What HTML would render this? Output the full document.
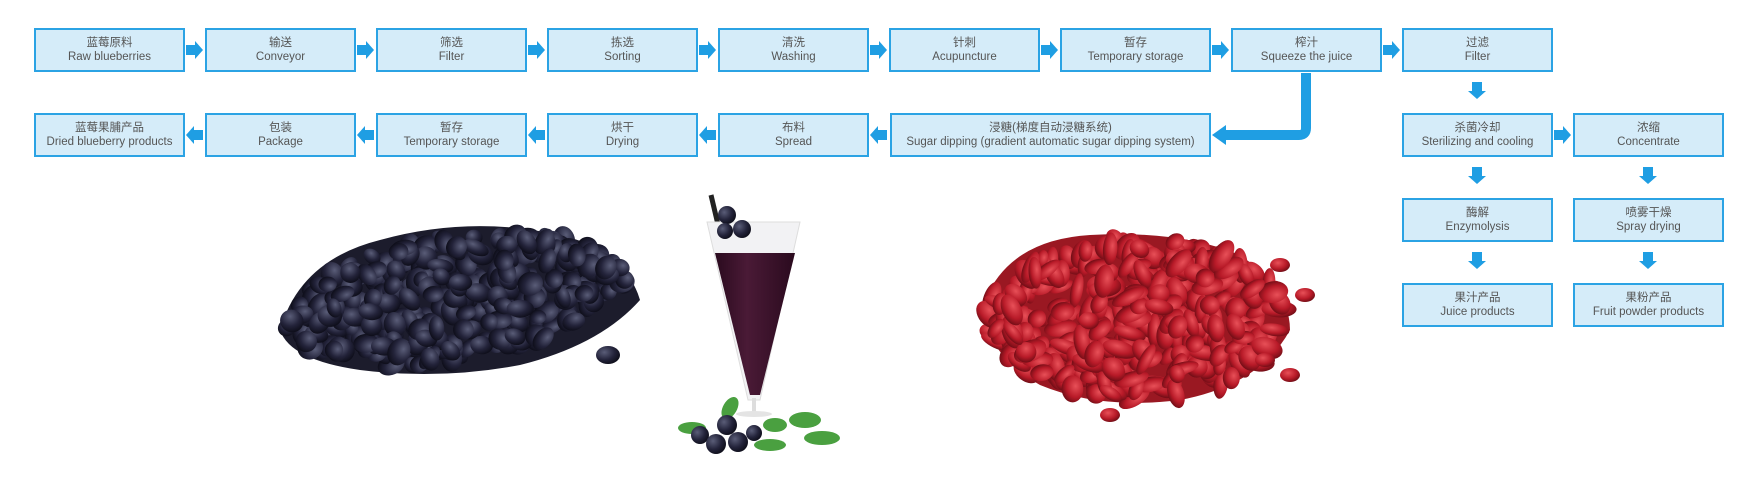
<!DOCTYPE html>
<html><head><meta charset="utf-8"><style>
body{margin:0;width:1761px;height:494px;background:#fff;overflow:hidden;font-family:"Liberation Sans","Noto Sans CJK SC",sans-serif;}
.b{position:absolute;width:147px;height:40px;background:#d5ecf9;border:2px solid #2ba3e4;text-align:center;color:#555;font-size:11.5px;line-height:14px;box-sizing:content-box;display:flex;flex-direction:column;justify-content:center;}
svg{position:absolute;left:0;top:0}
</style></head><body>
<svg width="1761" height="494" id="s">
<defs>
<radialGradient id="bb" cx="35%" cy="35%" r="70%"><stop offset="0" stop-color="#5a5d78"/><stop offset="0.6" stop-color="#23233a"/><stop offset="1" stop-color="#0e0e1a"/></radialGradient>
<radialGradient id="cr" cx="40%" cy="35%" r="70%"><stop offset="0" stop-color="#e85058"/><stop offset="0.6" stop-color="#b81a28"/><stop offset="1" stop-color="#6a0c14"/></radialGradient>
<linearGradient id="jz" x1="0" x2="1"><stop offset="0" stop-color="#2a0a1e"/><stop offset="0.4" stop-color="#4a1a36"/><stop offset="1" stop-color="#2a0a1e"/></linearGradient>
</defs>
<path d="M280 330 Q300 260 380 240 Q470 215 560 235 Q625 250 640 300 Q600 345 520 365 Q440 380 360 370 Q290 360 280 330Z" fill="#1c1c2c"/>
<path d="M985 300 Q1010 240 1090 235 Q1180 230 1240 255 Q1290 290 1290 330 Q1260 385 1180 400 Q1100 410 1040 385 Q980 350 985 300Z" fill="#9a1822"/>
<g id="blue"></g><g id="red"></g>
<line x1="711" y1="195" x2="724" y2="250" stroke="#222" stroke-width="5"/>
<path d="M707 222 L800 222 L760 400 L748 400 Z" fill="#f2f2f4" stroke="#ddd"/>
<path d="M715 253 L795 253 L760 395 L750 395 Z" fill="url(#jz)"/>
<rect x="752" y="398" width="4" height="14" fill="#ddd"/>
<ellipse cx="754" cy="414" rx="18" ry="3" fill="#e4e4e4"/>
<circle cx="727" cy="215" r="9" fill="url(#bb)"/><circle cx="742" cy="229" r="9" fill="url(#bb)"/><circle cx="725" cy="231" r="8" fill="url(#bb)"/>
<g fill="#4aa040"><ellipse cx="692" cy="428" rx="14" ry="6"/><ellipse cx="730" cy="408" rx="7" ry="12" transform="rotate(30 730 408)"/><ellipse cx="775" cy="425" rx="12" ry="7"/><ellipse cx="805" cy="420" rx="16" ry="8"/><ellipse cx="822" cy="438" rx="18" ry="7"/><ellipse cx="770" cy="445" rx="16" ry="6"/></g>
<circle cx="700" cy="435" r="9" fill="url(#bb)"/><circle cx="716" cy="444" r="10" fill="url(#bb)"/><circle cx="727" cy="425" r="10" fill="url(#bb)"/><circle cx="738" cy="442" r="10" fill="url(#bb)"/><circle cx="754" cy="433" r="8" fill="url(#bb)"/>
<g fill="none" stroke="#1f9ee3" stroke-width="10"><path d="M1306 73 V128 Q1306 135 1299 135 H1222"/></g>
<path d="M1212 135 L1226 125 L1226 145Z" fill="#1f9ee3"/>
</svg>
<div id="boxes"></div>
<script>
var s=document.getElementById('s'),NS='http://www.w3.org/2000/svg';
function el(t,a,p){var e=document.createElementNS(NS,t);for(var k in a)e.setAttribute(k,a[k]);(p||s).appendChild(e);return e;}
var ar='M0 -5 L9 -5 L9 -9 L17 0 L9 9 L9 5 L0 5Z';
var top1=[["蓝莓原料","Raw blueberries"],["输送","Conveyor"],["筛选","Filter"],["拣选","Sorting"],["清洗","Washing"],["针刺","Acupuncture"],["暂存","Temporary storage"],["榨汁","Squeeze the juice"],["过滤","Filter"]];
var bot=[["蓝莓果脯产品","Dried blueberry products"],["包装","Package"],["暂存","Temporary storage"],["烘干","Drying"],["布料","Spread"]];
var H='';
function box(x,y,w,a){H+='<div class="b" style="left:'+x+'px;top:'+y+'px;width:'+w+'px"><span>'+a[0]+'</span><span>'+a[1]+'</span></div>';}
top1.forEach(function(a,i){var x=34+171*i;box(x,28,147,a);if(i<8)el('path',{d:ar,fill:'#1f9ee3',transform:'translate('+(x+152)+',50)'});});
bot.forEach(function(a,i){var x=34+171*i;box(x,113,147,a);el('path',{d:ar,fill:'#1f9ee3',transform:'translate('+(x+169)+',135) scale(-1,1)'});});
box(890,113,317,["浸糖(梯度自动浸糖系统)","Sugar dipping (gradient automatic sugar dipping system)"]);
var c1=[["杀菌冷却","Sterilizing and cooling"],["酶解","Enzymolysis"],["果汁产品","Juice products"]];
var c2=[["浓缩","Concentrate"],["喷雾干燥","Spray drying"],["果粉产品","Fruit powder products"]];
c1.forEach(function(a,i){box(1402,113+85*i,147,a);});
c2.forEach(function(a,i){box(1573,113+85*i,147,a);});
el('path',{d:ar,fill:'#1f9ee3',transform:'translate(1554,135)'});
[[1477,82],[1477,167],[1477,252],[1648,167],[1648,252]].forEach(function(p){el('path',{d:ar,fill:'#1f9ee3',transform:'translate('+p[0]+','+p[1]+') rotate(90)'});});
document.getElementById('boxes').innerHTML=H;
var seed=7;function r(){seed=(seed*16807)%2147483647;return seed/2147483647;}
var g=document.getElementById('blue');
for(var i=0;i<320;i++){var a=r()*6.283,d=Math.sqrt(r());var x=455+Math.cos(a)*d*170,y=300+Math.sin(a)*d*62-(x-455)*0.12;
el('ellipse',{cx:x,cy:y,rx:8+r()*6,ry:7+r()*5,fill:'url(#bb)',transform:'rotate('+(r()*180)+' '+x+' '+y+')'},g);}
el('ellipse',{cx:608,cy:355,rx:12,ry:9,fill:'url(#bb)'},g);
var g2=document.getElementById('red');
for(var i=0;i<320;i++){var a=r()*6.283,d=Math.sqrt(r());var x=1135+Math.cos(a)*d*150,y=318+Math.sin(a)*d*80;
el('ellipse',{cx:x,cy:y,rx:9+r()*9,ry:6+r()*5,fill:'url(#cr)',transform:'rotate('+(r()*180)+' '+x+' '+y+')'},g2);}
[[1280,265],[1305,295],[1265,360],[1110,415],[1290,375]].forEach(function(p){el('ellipse',{cx:p[0],cy:p[1],rx:10,ry:7,fill:'url(#cr)'},g2);});
</script>
</body></html>
